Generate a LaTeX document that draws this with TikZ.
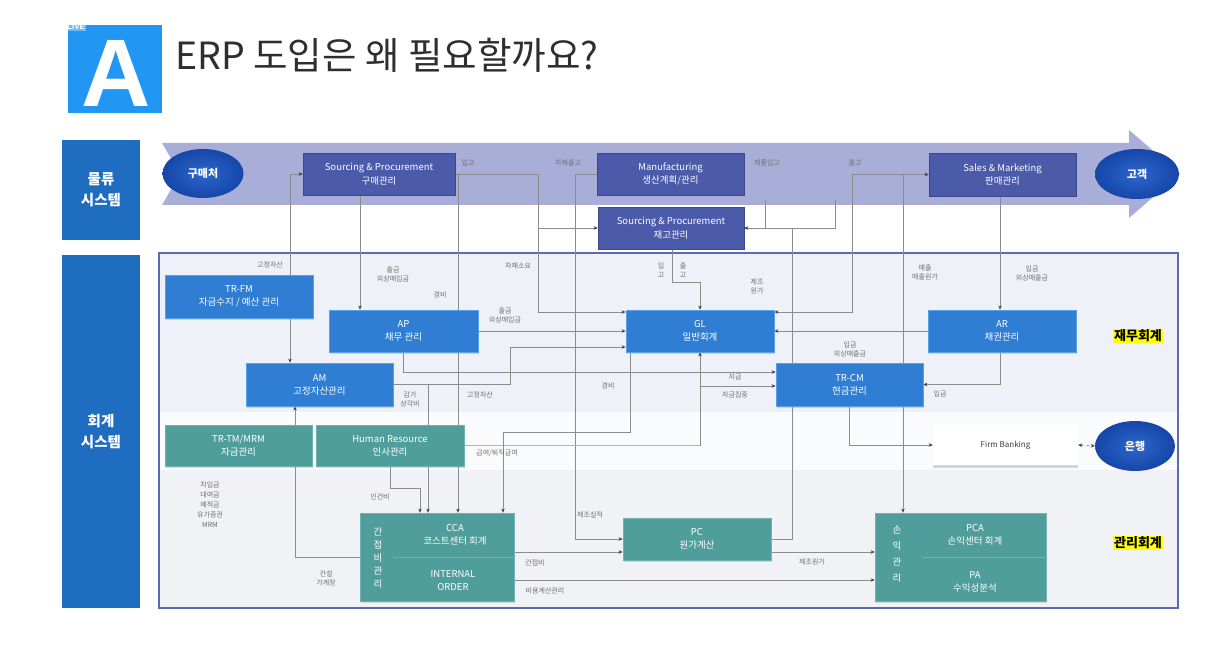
\documentclass[tikz,border=0pt]{standalone}
\usepackage{fontspec}
\setmainfont{Noto Sans CJK KR}
\newfontfamily\afont{Liberation Sans}
\usetikzlibrary{arrows.meta,shapes.geometric,shadows}
\pgfdeclarelayer{back}
\pgfdeclarelayer{lines}
\pgfsetlayers{back,lines,main}
\definecolor{finblue}{HTML}{2F7ED3}
\definecolor{finedge}{HTML}{5A9FE3}
\definecolor{mgtteal}{HTML}{4F9E9B}
\definecolor{mgtedge}{HTML}{6DB3B0}
\definecolor{logi}{HTML}{4B5AA9}
\definecolor{bandc}{HTML}{A8AED7}
\definecolor{ellin}{HTML}{2D66CC}
\definecolor{ellout}{HTML}{1646A8}
\definecolor{sidebl}{HTML}{1F6DC1}
\definecolor{abox}{HTML}{2196F3}
\definecolor{framec}{HTML}{5E68B3}
\definecolor{linegray}{HTML}{8C8C8C}
\definecolor{lblgray}{HTML}{6E6E6E}
\definecolor{arrowc}{HTML}{3A3A3A}
\definecolor{regA}{HTML}{EEF1F7}
\definecolor{regB}{HTML}{FAFBFC}
\definecolor{regC}{HTML}{F0F2F5}
\definecolor{titlegray}{HTML}{2E2E2E}
\definecolor{hilite}{HTML}{FFFF00}
\tikzset{
  fin/.style={rectangle, fill=finblue, draw=finedge, line width=0.8pt, text=white, inner sep=0pt,
    font=\fontsize{9.5}{13}\selectfont, align=center,
    drop shadow={opacity=0.25, shadow xshift=1pt, shadow yshift=-1.5pt}},
  mgt/.style={rectangle, fill=mgtteal, draw=mgtedge, line width=0.8pt, text=white, inner sep=0pt,
    font=\fontsize{9.5}{13}\selectfont, align=center,
    drop shadow={opacity=0.25, shadow xshift=1pt, shadow yshift=-1.5pt}},
  logibox/.style={rectangle, fill=logi, draw=logi!80!black, line width=0.6pt, text=white, inner sep=0pt,
    font=\fontsize{9.5}{13.5}\selectfont, align=center,
    drop shadow={opacity=0.2, shadow xshift=1pt, shadow yshift=-1.5pt}},
  ell/.style={ellipse, inner color=ellin, outer color=ellout, text=white, inner sep=0pt,
    font=\bfseries\fontsize{11}{13}\selectfont},
  side/.style={rectangle, fill=sidebl, text=white, inner sep=0pt, align=center,
    font=\bfseries\fontsize{14.5}{21}\selectfont},
  lbl/.style={text=lblgray, inner sep=0pt, align=center, font=\fontsize{7}{9}\selectfont},
  vtxt/.style={text=white, inner sep=0pt, align=center, font=\fontsize{9.5}{13}\selectfont},
  hl/.style={fill=hilite, text=black, inner sep=1pt, font=\bfseries\fontsize{13}{15}\selectfont},
  ln/.style={draw=linegray, line width=0.7pt},
  arr/.style={ln, -{Stealth[length=4pt,width=3.5pt,color=arrowc]}},
  arrb/.style={ln, {Stealth[length=4pt,width=3.5pt,color=arrowc]}-{Stealth[length=4pt,width=3.5pt,color=arrowc]}}
}
\begin{document}
\begin{tikzpicture}[x=1pt,y=-1pt]
\useasboundingbox (0,0) rectangle (1219,655);
\begin{pgfonlayer}{back}
\fill[white] (0,0) rectangle (1219,655);
\fill[bandc] (162,143) -- (1129,143) -- (1129,130) -- (1180,174) -- (1129,218) -- (1129,205) -- (162,205) -- (180,174) -- cycle;
\fill[regA] (160,254) rectangle (1177,412);
\fill[regB] (160,412) rectangle (1177,470);
\fill[regC] (160,470) rectangle (1177,607);
\draw[framec, line width=1.8pt] (159,253) rectangle (1178,608);
\end{pgfonlayer}

% header
\node[fill=abox, minimum width=94pt, minimum height=88pt, inner sep=0pt] (abx) at (115,69) {};
\node[anchor=base, text=white, font=\afont\bfseries\fontsize{96}{96}\selectfont, inner sep=0pt, text height=68pt, text depth=0pt] (alet) at (116,107) {A};
\node[fill=white, fill opacity=0.35, text opacity=1, text=white, font=\afont\bfseries\fontsize{8}{8}\selectfont, inner sep=1pt, anchor=north west] (live) at (66,23) {LIVE};
\node[anchor=base west, text=titlegray, inner sep=0pt, font=\fontsize{37.5}{44}\selectfont] (title) at (175,70) {ERP 도입은 왜 필요할까요?};

% side labels
\node[side, minimum width=78pt, minimum height=100pt] (s1) at (101,190) {물류\\시스템};
\node[side, minimum width=78pt, minimum height=353pt] (s2) at (101,431.5) {회계\\시스템};

% boxes
\node[logibox, minimum width=152pt, minimum height=42pt] (spp) at (379,174) {Sourcing \& Procurement\\구매관리};
\node[logibox, minimum width=147pt, minimum height=42pt] (manu) at (670.5,174) {Manufacturing\\생산계획/관리};
\node[logibox, minimum width=146pt, minimum height=42pt] (inv) at (671,228) {Sourcing \& Procurement\\재고관리};
\node[logibox, minimum width=147pt, minimum height=43pt] (sales) at (1002.5,174.5) {Sales \& Marketing\\판매관리};

\node[fin, minimum width=148pt, minimum height=43pt] (tfm) at (239,296.5) {TR-FM\\자금수지 / 예산 관리};
\node[fin, minimum width=149pt, minimum height=42pt] (ap) at (403.5,331) {AP\\채무 관리};
\node[fin, minimum width=148pt, minimum height=42pt] (gl) at (700,331) {GL\\일반회계};
\node[fin, minimum width=148pt, minimum height=42pt] (ar) at (1002,331) {AR\\채권관리};
\node[fin, minimum width=147pt, minimum height=43pt] (am) at (319.5,384.5) {AM\\고정자산관리};
\node[fin, minimum width=147pt, minimum height=43pt] (tcm) at (849.5,384.5) {TR-CM\\현금관리};

\node[mgt, minimum width=147pt, minimum height=41pt] (ttm) at (238.5,445.5) {TR-TM/MRM\\자금관리};
\node[mgt, minimum width=148pt, minimum height=41pt] (hr) at (390,445.5) {Human Resource\\인사관리};
\node[rectangle, fill=white, inner sep=0pt, minimum width=145pt, minimum height=40pt, text=arrowc, font=\fontsize{8}{10}\selectfont,
  drop shadow={opacity=0.3, shadow xshift=0pt, shadow yshift=-2.5pt}] (fb) at (1005.5,445) {Firm Banking};

\node[mgt, minimum width=154pt, minimum height=88pt] (cca) at (437,557) {};
\node[mgt, minimum width=148pt, minimum height=42pt] (pc) at (697,539) {PC\\원가계산};
\node[mgt, minimum width=171pt, minimum height=88pt] (pca) at (960.5,557) {};

% ellipses
\node[ell, minimum width=81pt, minimum height=49pt] (buy) at (203,173.5) {구매처};
\node[ell, minimum width=84pt, minimum height=50pt] (cust) at (1137,174) {고객};
\node[ell, minimum width=80pt, minimum height=50pt] (bank) at (1135,446) {은행};

% connectors
\begin{pgfonlayer}{lines}
\draw[arrb] (am.north -| 290,0) |- (spp.west);
\draw[arr] (spp.south -| 360,0) -- (ap.north -| 360,0);
\draw[arr] (spp.east) -| (538,312) -- ([yshift=19pt]gl.west);
\draw[arr] (538,228) -- (inv.west);
\draw[arr] (458,174) -- (cca.north -| 458,0);
\draw[arr] (manu.west) -| (575,539) -- (pc.west);
\draw[ln] (765,200) |- (inv.east);
\draw[ln] (835,200) |- (inv.east);
\draw[arr] (pc.east) -| (792,228) -- (inv.east);
\draw[arrb] (sales.west) -| (852,312) -- ([yshift=19pt]gl.east);
\draw[arr] (903,174) -- (pca.north -| 903,0);
\draw[arr] (sales.south -| 1000,0) -- (ar.north -| 1000,0);
\draw[arr] (ar.west) -- (gl.east);
\draw[arr] (ar.south -| 1000,0) |- (tcm.east);
\draw[arr] (ap.south -| 403,0) |- ([yshift=12.5pt]tcm.west);
\draw[arr] (ap.east) -- (gl.west);
\draw[arr] (am.east) -| (510,347) -- ([yshift=-16pt]gl.west);
\draw[arr] (428,384.5) -- (cca.north -| 428,0);
\draw[arr] (inv.south -| 672,0) |- (700,282) -- (gl.north);
\draw[arr] (gl.south) |- ([yshift=-1.5pt]tcm.west);
\draw[draw=finedge!70, line width=0.9pt] (hr.east) -- (700,445.5);
\draw[arr] (700,445.5) -- (gl.south);
\draw[arr] (gl.south -| 630,0) |- (503,432) -- (cca.north -| 503,0);
\draw[arr] (hr.south -| 390,0) |- (420,488) -- (cca.north -| 420,0);
\draw[arr] (cca.west) -| (am.south -| 295,0);
\draw[arr] ([yshift=5pt]cca.east) -- ([yshift=-13pt]pc.west);
\draw[arr] ([yshift=-13pt]pc.east) -- ([yshift=5pt]pca.west);
\draw[arr] ([yshift=-23pt]cca.east) -- ([yshift=-23pt]pca.west);
\draw[arr] (tcm.south) |- (fb.west);
\draw[arrb, dashed] (fb.east) -- (bank.west);
\end{pgfonlayer}

% CCA / PCA inner content
\draw[mgtedge, line width=0.8pt] ([xshift=33pt]cca.west) -- (cca.east);
\node[vtxt] (ccav) at (378,558) {간\\접\\비\\관\\리};
\node[vtxt] (ccat) at (455,535) {CCA\\코스트센터 회계};
\node[vtxt] (iot) at (453,581) {INTERNAL\\ORDER};
\draw[mgtedge, line width=0.8pt] ([xshift=47pt]pca.west) -- (pca.east);
\node[vtxt, font=\fontsize{9.5}{16}\selectfont] (pcav) at (897,554) {손\\익\\관\\리};
\node[vtxt] (pcat) at (975,535) {PCA\\손익센터 회계};
\node[vtxt] (pat) at (975,582) {PA\\수익성분석};

% highlighted labels
\node[hl] (fa) at (1138,336) {재무회계};
\node[hl] (ma) at (1138,543) {관리회계};

% small labels
\node[lbl] (t1) at (468,163) {입고};
\node[lbl] (t2) at (568,163) {자재출고};
\node[lbl] (t3) at (767,163) {제품입고};
\node[lbl] (t4) at (855,163) {출고};
\node[lbl] (t5) at (270,265) {고정자산};
\node[lbl] (t6) at (393,274) {출금\\외상매입금};
\node[lbl] (t7) at (440,295) {경비};
\node[lbl] (t8) at (518,266) {자재소요};
\node[lbl] (t9) at (661,270) {입\\고};
\node[lbl] (t10) at (683,270) {출\\고};
\node[lbl] (t11) at (757,286) {제조\\원가};
\node[lbl] (t12) at (925,272) {매출\\매출원가};
\node[lbl] (t13) at (1032,273) {입금\\외상매출금};
\node[lbl] (t14) at (505,315) {출금\\외상매입금};
\node[lbl] (t15) at (850,349) {입금\\외상매출금};
\node[lbl] (t16) at (940,394) {입금};
\node[lbl] (t17) at (735,377) {지급};
\node[lbl] (t18) at (735,395) {자금집중};
\node[lbl] (t19) at (410,399) {감가\\상각비};
\node[lbl] (t20) at (480,395) {고정자산};
\node[lbl] (t21) at (608,386) {경비};
\node[lbl] (t22) at (497,453) {급여/퇴직급여};
\node[lbl] (t23) at (380,497) {인건비};
\node[lbl, font=\fontsize{7}{10}\selectfont] (t24) at (210,505) {차입금\\대여금\\예적금\\유가증권\\MRM};
\node[lbl] (t25) at (326,578) {건설\\가계정};
\node[lbl] (t26) at (590,515) {제조실적};
\node[lbl] (t27) at (535,563) {간접비};
\node[lbl] (t28) at (812,562) {제조원가};
\node[lbl] (t29) at (545,591) {비용계산관리};
\end{tikzpicture}
\end{document}
